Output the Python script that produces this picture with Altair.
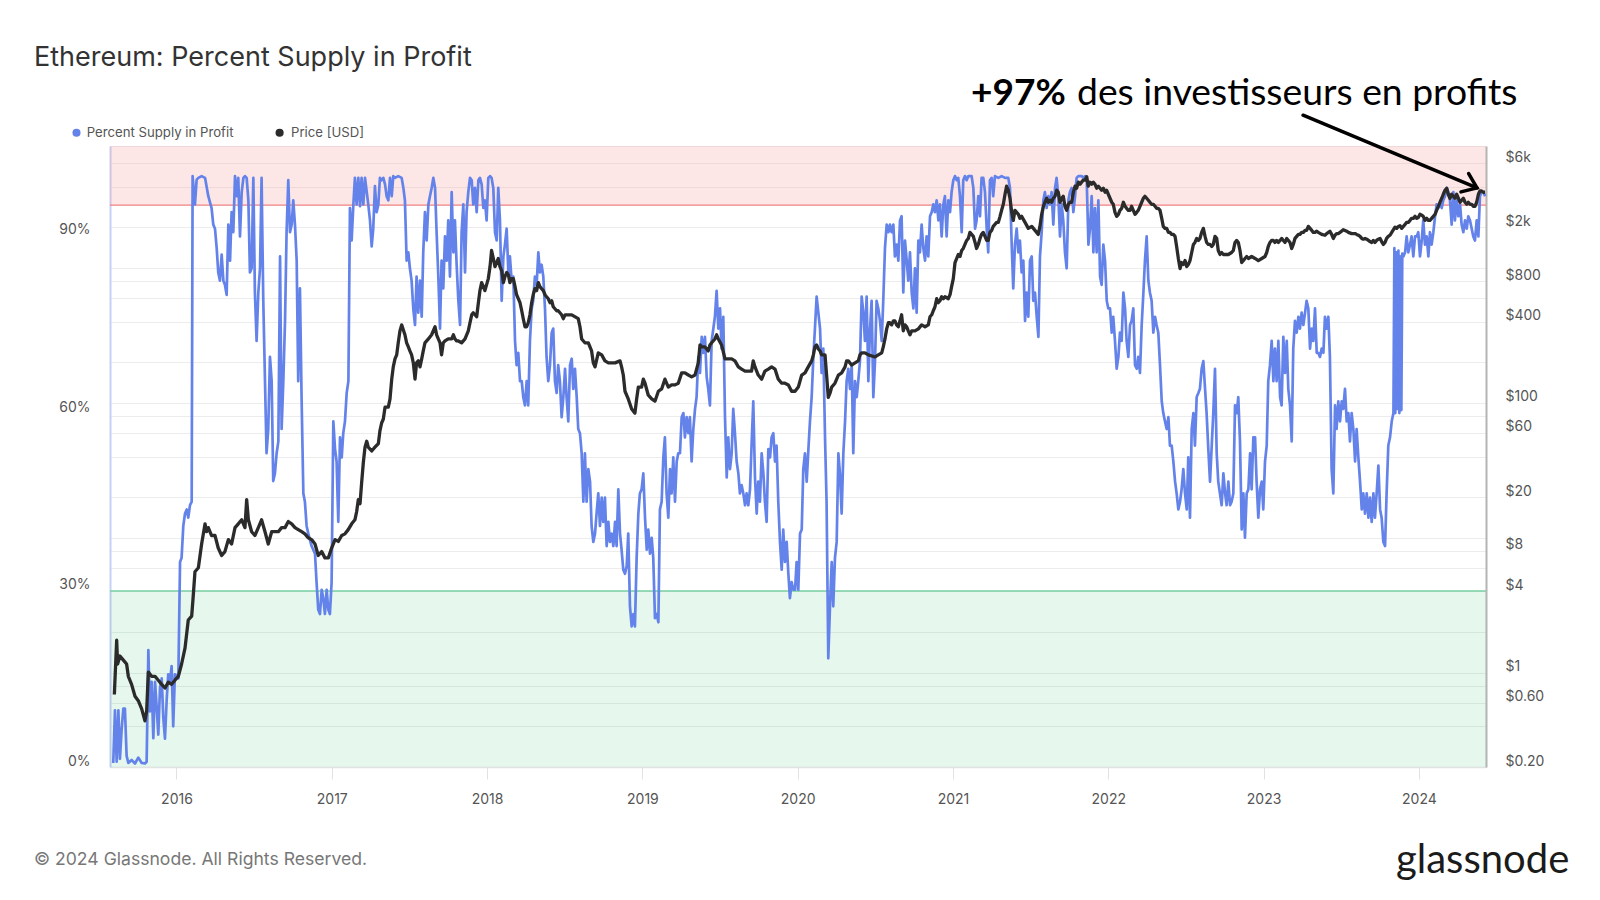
import altair as alt
import pandas as pd

# ---------------- data ----------------
# Percent Supply in Profit (%), (decimal year, value)
supply_2015_2016 = [
    (2015.593, 0.3), (2015.604, 9.2), (2015.615, 0.5), (2015.626, 9.2), (2015.636, 1.0), (2015.647, 6.0),
    (2015.658, 9.5), (2015.668, 9.5), (2015.679, 1.5), (2015.690, 0.3), (2015.711, 0.8), (2015.733, 0.2),
    (2015.754, 1.2), (2015.776, 0.3), (2015.797, 0.2), (2015.808, 0.5), (2015.819, 19.4), (2015.829, 9.0),
    (2015.840, 14.0), (2015.851, 4.5), (2015.862, 14.0), (2015.872, 10.0), (2015.883, 5.1), (2015.894, 13.0),
    (2015.905, 14.6), (2015.915, 8.0), (2015.926, 4.4), (2015.937, 11.0), (2015.947, 15.3), (2015.958, 14.0),
    (2015.969, 16.7), (2015.979, 6.5), (2015.990, 15.3), (2016.001, 15.0), (2016.012, 14.6), (2016.023, 34.3),
    (2016.033, 35.0), (2016.044, 40.4), (2016.055, 42.5), (2016.066, 43.2), (2016.076, 41.8), (2016.087, 43.9),
    (2016.098, 44.5), (2016.104, 99.6), (2016.119, 94.8), (2016.130, 99.0), (2016.141, 99.3), (2016.162, 99.6),
    (2016.184, 99.3), (2016.205, 96.2), (2016.226, 94.2), (2016.237, 91.4), (2016.248, 90.7), (2016.259, 87.4),
    (2016.269, 83.3), (2016.280, 81.9), (2016.291, 86.3), (2016.302, 81.9), (2016.312, 81.2), (2016.323, 79.5),
    (2016.334, 91.4), (2016.345, 85.3), (2016.355, 93.5), (2016.366, 90.1), (2016.377, 99.6), (2016.388, 96.2),
    (2016.398, 99.3), (2016.409, 89.4), (2016.420, 96.9), (2016.431, 99.3), (2016.441, 99.6), (2016.452, 99.3),
    (2016.463, 95.5), (2016.473, 83.3), (2016.484, 84.0), (2016.495, 99.3), (2016.505, 79.9), (2016.516, 71.7),
    (2016.527, 79.9), (2016.538, 84.0), (2016.548, 99.3), (2016.559, 78.5), (2016.570, 64.9), (2016.580, 52.7),
    (2016.591, 56.8), (2016.602, 69.0), (2016.613, 64.9), (2016.623, 48.0), (2016.634, 49.3), (2016.645, 52.7),
    (2016.656, 54.7), (2016.667, 86.0), (2016.677, 56.8), (2016.688, 64.9), (2016.699, 75.1), (2016.709, 90.1),
    (2016.720, 98.9), (2016.731, 90.1), (2016.742, 91.4), (2016.752, 95.5), (2016.763, 91.4), (2016.774, 85.3),
    (2016.784, 64.9), (2016.795, 80.6), (2016.806, 61.5), (2016.817, 45.9), (2016.827, 44.5), (2016.838, 40.4),
    (2016.849, 39.1), (2016.870, 37.0), (2016.892, 35.7), (2016.902, 30.9), (2016.913, 26.2), (2016.924, 25.5),
    (2016.935, 29.6), (2016.945, 28.2), (2016.956, 25.5), (2016.967, 29.6), (2016.978, 26.2), (2016.988, 25.5),
    (2016.999, 30.9), (2017.010, 58.1),
]
supply_2017_2018 = [
    (2017.021, 53.4), (2017.031, 51.3), (2017.042, 41.1), (2017.053, 55.4), (2017.064, 52.0), (2017.074, 56.1),
    (2017.085, 58.1), (2017.096, 62.9), (2017.107, 64.9), (2017.117, 94.2), (2017.128, 88.7), (2017.139, 94.8),
    (2017.149, 99.3), (2017.160, 94.8), (2017.171, 99.3), (2017.182, 94.5), (2017.192, 99.3), (2017.203, 94.8),
    (2017.214, 99.3), (2017.235, 94.8), (2017.246, 92.1), (2017.257, 87.7), (2017.267, 90.7), (2017.278, 97.9),
    (2017.289, 93.5), (2017.300, 94.8), (2017.310, 99.3), (2017.321, 98.9), (2017.332, 99.3), (2017.343, 98.2),
    (2017.353, 96.2), (2017.364, 95.5), (2017.375, 99.3), (2017.386, 96.2), (2017.396, 99.6), (2017.407, 99.3),
    (2017.428, 99.6), (2017.450, 99.3), (2017.461, 97.6), (2017.471, 95.5), (2017.482, 85.3), (2017.493, 86.7),
    (2017.503, 84.0), (2017.514, 81.9), (2017.525, 77.1), (2017.536, 74.4), (2017.546, 82.6), (2017.557, 76.5),
    (2017.568, 81.9), (2017.579, 75.8), (2017.589, 86.7), (2017.600, 93.5), (2017.611, 88.7), (2017.622, 94.8),
    (2017.632, 96.2), (2017.643, 97.6), (2017.654, 99.3), (2017.665, 97.6), (2017.675, 90.1), (2017.686, 82.6),
    (2017.697, 73.8), (2017.707, 85.3), (2017.718, 80.6), (2017.729, 89.4), (2017.740, 85.3), (2017.750, 92.1),
    (2017.761, 82.6), (2017.772, 96.9), (2017.783, 86.7), (2017.793, 92.1), (2017.804, 84.6), (2017.815, 78.5),
    (2017.826, 74.4), (2017.836, 90.1), (2017.847, 94.8), (2017.858, 83.3), (2017.868, 93.5), (2017.879, 96.9),
    (2017.890, 99.3), (2017.901, 98.9), (2017.911, 94.8), (2017.922, 97.6), (2017.933, 93.5), (2017.944, 98.9),
    (2017.954, 99.3), (2017.965, 98.2), (2017.976, 94.2), (2017.986, 95.5), (2017.997, 92.1), (2018.008, 99.3),
    (2018.019, 99.6), (2018.029, 99.3), (2018.040, 97.6), (2018.051, 90.1), (2018.062, 88.7), (2018.072, 97.6),
    (2018.083, 92.1), (2018.094, 78.5), (2018.105, 86.0), (2018.115, 88.0), (2018.126, 90.7), (2018.137, 83.3),
    (2018.147, 86.0), (2018.158, 81.9), (2018.169, 82.6), (2018.180, 71.7), (2018.190, 67.6), (2018.201, 69.7),
    (2018.212, 64.9), (2018.223, 64.9), (2018.233, 62.2), (2018.244, 60.8), (2018.255, 64.9), (2018.265, 60.8),
    (2018.276, 71.7), (2018.287, 77.1), (2018.297, 78.5), (2018.308, 82.6), (2018.319, 81.2), (2018.330, 86.7),
    (2018.340, 83.3), (2018.351, 84.6), (2018.362, 82.6), (2018.373, 77.1), (2018.383, 69.0), (2018.394, 64.9),
    (2018.405, 67.6), (2018.416, 73.1), (2018.426, 73.8), (2018.437, 64.9), (2018.448, 62.9), (2018.458, 67.6),
    (2018.469, 64.9), (2018.480, 58.8), (2018.491, 62.2),
]
supply_2018_2019 = [
    (2018.502, 67.0), (2018.512, 62.2), (2018.523, 58.1), (2018.534, 67.6), (2018.545, 68.7), (2018.555, 63.6),
    (2018.566, 67.0), (2018.577, 62.2), (2018.587, 56.8), (2018.598, 56.1), (2018.609, 52.7), (2018.620, 44.5),
    (2018.630, 52.7), (2018.641, 44.5), (2018.652, 50.0), (2018.663, 47.9), (2018.673, 40.4), (2018.684, 37.7),
    (2018.695, 39.1), (2018.705, 42.5), (2018.716, 45.9), (2018.727, 40.4), (2018.738, 45.2), (2018.748, 41.1),
    (2018.759, 45.2), (2018.770, 37.0), (2018.781, 41.1), (2018.791, 37.7), (2018.802, 39.1), (2018.813, 37.0),
    (2018.824, 41.1), (2018.834, 37.0), (2018.845, 46.6), (2018.856, 39.1), (2018.866, 36.4), (2018.877, 33.0),
    (2018.888, 32.3), (2018.899, 33.6), (2018.909, 39.1), (2018.920, 26.8), (2018.931, 23.4), (2018.942, 25.5),
    (2018.952, 23.4), (2018.963, 35.0), (2018.974, 42.5), (2018.984, 45.9), (2018.995, 46.6), (2019.006, 49.3),
    (2019.017, 41.8), (2019.028, 36.4), (2019.038, 39.8), (2019.049, 35.7), (2019.060, 38.4), (2019.070, 35.0),
    (2019.081, 24.8), (2019.092, 25.5), (2019.103, 24.1), (2019.113, 43.2), (2019.124, 44.5), (2019.135, 52.0),
    (2019.145, 55.4), (2019.156, 45.9), (2019.167, 41.8), (2019.178, 50.0), (2019.188, 45.9), (2019.199, 52.0),
    (2019.210, 44.5), (2019.221, 51.3), (2019.231, 52.7), (2019.242, 52.7), (2019.253, 58.8), (2019.264, 59.5),
    (2019.274, 55.4), (2019.285, 58.8), (2019.296, 56.1), (2019.306, 58.8), (2019.317, 51.3), (2019.328, 56.8),
    (2019.339, 60.2), (2019.349, 62.2), (2019.360, 69.0), (2019.371, 66.3), (2019.382, 72.4), (2019.392, 69.7),
    (2019.403, 72.4), (2019.414, 65.6), (2019.424, 63.6), (2019.435, 60.8), (2019.446, 71.7), (2019.457, 73.8),
    (2019.467, 75.8), (2019.478, 80.2), (2019.489, 73.8), (2019.500, 77.2), (2019.510, 70.4), (2019.521, 75.8),
    (2019.532, 58.8), (2019.543, 48.6), (2019.553, 55.4), (2019.564, 50.0), (2019.575, 52.7), (2019.585, 60.2),
    (2019.596, 56.1), (2019.607, 51.3), (2019.618, 49.3), (2019.628, 45.9), (2019.639, 47.3), (2019.650, 45.9),
    (2019.661, 43.9), (2019.671, 45.9), (2019.682, 43.9), (2019.693, 46.6), (2019.703, 54.0), (2019.714, 61.5),
    (2019.725, 48.6), (2019.736, 42.5), (2019.746, 47.9), (2019.757, 44.5), (2019.768, 52.7), (2019.779, 49.3),
    (2019.789, 44.5), (2019.800, 41.1), (2019.811, 53.4), (2019.822, 52.0), (2019.832, 55.4), (2019.843, 56.1),
    (2019.854, 51.3), (2019.864, 54.0), (2019.875, 44.5), (2019.886, 37.7), (2019.897, 33.0), (2019.907, 39.8),
    (2019.918, 34.3), (2019.929, 37.7), (2019.940, 32.3), (2019.950, 28.2), (2019.961, 30.9), (2019.972, 29.6),
]
supply_2020_2021 = [
    (2019.983, 29.6), (2019.993, 34.3), (2020.004, 29.6), (2020.015, 39.1), (2020.026, 39.8), (2020.036, 50.0),
    (2020.047, 52.7), (2020.058, 47.9), (2020.069, 53.4), (2020.079, 58.1), (2020.090, 62.2), (2020.101, 69.0),
    (2020.111, 73.8), (2020.122, 79.2), (2020.133, 76.5), (2020.144, 73.8), (2020.154, 66.3), (2020.165, 70.4),
    (2020.176, 55.4), (2020.186, 44.5), (2020.197, 18.0), (2020.208, 26.8), (2020.219, 34.3), (2020.229, 26.8),
    (2020.240, 35.0), (2020.251, 37.7), (2020.262, 52.7), (2020.272, 49.3), (2020.283, 42.5), (2020.294, 52.7),
    (2020.305, 58.1), (2020.315, 64.9), (2020.326, 67.0), (2020.337, 63.6), (2020.348, 67.6), (2020.358, 52.7),
    (2020.369, 64.9), (2020.380, 62.2), (2020.390, 64.9), (2020.401, 68.3), (2020.412, 79.2), (2020.423, 76.5),
    (2020.433, 71.7), (2020.444, 79.2), (2020.455, 64.9), (2020.466, 73.8), (2020.476, 78.5), (2020.487, 62.2),
    (2020.498, 68.3), (2020.508, 78.5), (2020.519, 77.2), (2020.530, 75.1), (2020.541, 71.7), (2020.551, 78.5),
    (2020.562, 87.4), (2020.573, 91.4), (2020.584, 90.1), (2020.594, 91.4), (2020.605, 90.1), (2020.616, 91.4),
    (2020.626, 86.0), (2020.637, 88.0), (2020.648, 85.3), (2020.659, 92.1), (2020.669, 92.8), (2020.680, 79.9),
    (2020.691, 88.7), (2020.702, 85.3), (2020.712, 81.9), (2020.723, 86.7), (2020.734, 79.9), (2020.745, 77.2),
    (2020.755, 84.0), (2020.766, 76.5), (2020.777, 88.7), (2020.787, 86.7), (2020.798, 91.4), (2020.809, 87.4),
    (2020.820, 85.3), (2020.830, 89.4), (2020.841, 86.0), (2020.852, 92.8), (2020.863, 93.5), (2020.873, 94.8),
    (2020.884, 93.5), (2020.895, 95.5), (2020.906, 92.1), (2020.916, 94.8), (2020.927, 89.4), (2020.938, 94.8),
    (2020.948, 96.2), (2020.959, 89.4), (2020.970, 95.5), (2020.981, 93.5), (2020.991, 96.9), (2021.002, 98.9),
    (2021.013, 99.6), (2021.024, 98.9), (2021.034, 99.3), (2021.045, 96.2), (2021.056, 90.1), (2021.066, 98.9),
    (2021.077, 99.6), (2021.088, 98.9), (2021.099, 99.6), (2021.120, 99.6), (2021.131, 97.6), (2021.142, 90.7),
    (2021.152, 92.1), (2021.163, 96.2), (2021.174, 92.8), (2021.184, 99.3), (2021.195, 99.3), (2021.206, 96.9),
    (2021.217, 90.7), (2021.227, 86.7), (2021.238, 98.9), (2021.249, 99.3), (2021.259, 96.2), (2021.270, 99.6),
    (2021.292, 99.3), (2021.313, 99.6), (2021.335, 99.3), (2021.356, 99.3), (2021.367, 97.6), (2021.378, 88.0),
    (2021.388, 80.6), (2021.399, 88.0), (2021.410, 90.7), (2021.421, 86.7), (2021.431, 88.7), (2021.442, 83.3),
    (2021.453, 85.3),
]
supply_2021_2022 = [
    (2021.464, 75.1), (2021.474, 79.9), (2021.485, 75.8), (2021.496, 85.3), (2021.507, 86.0), (2021.517, 78.5),
    (2021.528, 79.9), (2021.539, 75.8), (2021.550, 72.4), (2021.560, 86.0), (2021.571, 90.1), (2021.582, 95.5),
    (2021.592, 96.9), (2021.603, 94.2), (2021.614, 96.2), (2021.625, 94.8), (2021.635, 96.9), (2021.646, 91.4),
    (2021.657, 97.6), (2021.667, 99.3), (2021.678, 96.2), (2021.689, 89.4), (2021.700, 94.8), (2021.710, 92.1),
    (2021.721, 86.7), (2021.732, 84.0), (2021.743, 95.5), (2021.753, 96.9), (2021.764, 97.6), (2021.775, 93.5),
    (2021.786, 96.2), (2021.796, 99.3), (2021.807, 99.6), (2021.829, 99.6), (2021.839, 99.3), (2021.850, 99.6),
    (2021.861, 98.9), (2021.872, 88.0), (2021.882, 90.7), (2021.893, 96.2), (2021.904, 86.7), (2021.914, 94.2),
    (2021.925, 86.7), (2021.936, 95.5), (2021.947, 82.6), (2021.957, 81.2), (2021.968, 88.0), (2021.979, 85.3),
    (2021.990, 78.5), (2022.000, 77.2), (2022.011, 77.2), (2022.022, 73.1), (2022.032, 75.8), (2022.043, 71.7),
    (2022.054, 67.0), (2022.065, 69.0), (2022.075, 73.1), (2022.086, 71.7), (2022.097, 79.9), (2022.108, 77.2),
    (2022.118, 71.7), (2022.129, 69.0), (2022.140, 74.4), (2022.150, 75.1), (2022.161, 77.2), (2022.172, 67.6),
    (2022.183, 67.0), (2022.193, 69.0), (2022.204, 66.3), (2022.215, 74.4), (2022.226, 79.9), (2022.236, 85.3),
    (2022.247, 89.4), (2022.258, 81.9), (2022.268, 79.9), (2022.279, 78.5), (2022.290, 73.1), (2022.301, 75.8),
    (2022.311, 74.4), (2022.322, 73.1), (2022.333, 67.6), (2022.344, 61.5), (2022.354, 59.5), (2022.365, 58.1),
    (2022.376, 56.8), (2022.387, 58.8), (2022.397, 54.0), (2022.408, 54.0), (2022.419, 51.3), (2022.430, 47.9),
    (2022.440, 45.9), (2022.451, 43.2), (2022.462, 44.5), (2022.472, 46.6), (2022.483, 50.0), (2022.494, 45.9),
    (2022.505, 43.2), (2022.515, 52.0), (2022.526, 41.8), (2022.537, 56.8), (2022.548, 59.5), (2022.558, 54.0),
    (2022.569, 62.2), (2022.580, 62.9), (2022.590, 63.6), (2022.601, 67.0), (2022.612, 68.3), (2022.623, 63.6),
    (2022.633, 59.5), (2022.644, 53.4), (2022.655, 47.9), (2022.666, 54.0), (2022.676, 59.5), (2022.687, 67.0),
    (2022.698, 52.7), (2022.708, 47.9), (2022.719, 45.9), (2022.730, 43.9), (2022.741, 49.3), (2022.752, 45.9),
    (2022.762, 43.9), (2022.773, 47.9), (2022.784, 43.9), (2022.794, 44.5), (2022.805, 45.9), (2022.816, 60.8),
    (2022.827, 59.5), (2022.837, 62.2), (2022.848, 54.7), (2022.859, 39.8), (2022.870, 45.9), (2022.880, 38.4),
    (2022.891, 45.9), (2022.902, 46.6), (2022.913, 52.7), (2022.923, 46.6), (2022.934, 55.4),
]
supply_2023_2024 = [
    (2022.945, 55.4), (2022.955, 47.9), (2022.966, 41.8), (2022.977, 46.6), (2022.988, 47.9), (2022.998, 43.2),
    (2023.009, 51.3), (2023.020, 54.0), (2023.030, 64.9), (2023.041, 67.6), (2023.052, 71.7), (2023.063, 64.9),
    (2023.073, 70.4), (2023.084, 64.9), (2023.095, 71.7), (2023.106, 62.2), (2023.116, 60.8), (2023.127, 72.4),
    (2023.138, 66.3), (2023.149, 71.7), (2023.159, 63.6), (2023.170, 60.8), (2023.181, 54.7), (2023.191, 70.4),
    (2023.202, 75.1), (2023.213, 73.1), (2023.224, 75.8), (2023.234, 73.8), (2023.245, 76.5), (2023.256, 74.4),
    (2023.267, 76.5), (2023.277, 78.5), (2023.288, 77.2), (2023.299, 70.4), (2023.310, 73.8), (2023.320, 71.7),
    (2023.331, 77.2), (2023.342, 69.7), (2023.352, 69.7), (2023.363, 69.0), (2023.374, 70.4), (2023.385, 69.7),
    (2023.395, 75.8), (2023.406, 73.8), (2023.417, 75.8), (2023.427, 69.0), (2023.438, 50.0), (2023.449, 45.9),
    (2023.460, 60.8), (2023.470, 56.8), (2023.481, 61.5), (2023.492, 58.1), (2023.503, 61.5), (2023.513, 60.2),
    (2023.524, 63.6), (2023.535, 58.1), (2023.546, 59.5), (2023.556, 54.7), (2023.567, 59.5), (2023.578, 56.8),
    (2023.589, 51.3), (2023.599, 56.8), (2023.610, 52.0), (2023.621, 47.9), (2023.632, 43.2), (2023.642, 45.9),
    (2023.653, 42.5), (2023.664, 45.9), (2023.675, 41.8), (2023.685, 45.2), (2023.696, 41.1), (2023.707, 45.9),
    (2023.717, 41.8), (2023.728, 45.9), (2023.739, 50.6), (2023.750, 43.2), (2023.760, 41.8), (2023.771, 37.7),
    (2023.782, 37.0), (2023.792, 45.9), (2023.803, 54.0), (2023.814, 55.4), (2023.825, 58.1), (2023.836, 59.5),
    (2023.842, 87.4), (2023.848, 59.5), (2023.855, 86.7), (2023.861, 60.2), (2023.868, 87.0), (2023.874, 59.5),
    (2023.880, 86.0), (2023.887, 60.0), (2023.893, 86.5), (2023.900, 86.0), (2023.911, 86.7), (2023.921, 89.4),
    (2023.932, 86.7), (2023.943, 88.0), (2023.953, 89.4), (2023.964, 86.0), (2023.975, 89.4), (2023.986, 89.4),
    (2023.996, 90.1), (2024.007, 86.0), (2024.018, 88.7), (2024.028, 92.1), (2024.039, 88.0), (2024.050, 89.4),
    (2024.061, 86.0), (2024.071, 90.1), (2024.082, 88.0), (2024.093, 90.1), (2024.104, 92.8), (2024.114, 94.8),
    (2024.125, 94.2), (2024.136, 94.8), (2024.147, 94.2), (2024.157, 95.5), (2024.168, 96.2), (2024.179, 97.6),
    (2024.189, 96.9), (2024.200, 95.5), (2024.211, 91.4), (2024.222, 96.9), (2024.232, 92.1), (2024.243, 95.5),
    (2024.254, 92.8), (2024.265, 94.8), (2024.275, 91.4), (2024.286, 90.1), (2024.297, 92.1), (2024.308, 90.7),
    (2024.318, 92.8), (2024.329, 92.1), (2024.340, 90.7), (2024.350, 89.4), (2024.361, 88.7), (2024.372, 92.1),
    (2024.383, 89.4), (2024.393, 96.2), (2024.404, 96.9), (2024.415, 96.9), (2024.426, 96.2),
]

# ETH price (USD), (decimal year, value)
price_2015_2016 = [
    (2015.600, 0.69), (2015.615, 1.74), (2015.621, 1.16), (2015.636, 1.33), (2015.658, 1.24), (2015.679, 1.16),
    (2015.690, 0.94), (2015.711, 0.82), (2015.733, 0.67), (2015.754, 0.62), (2015.776, 0.54), (2015.797, 0.44),
    (2015.808, 0.52), (2015.819, 1.01), (2015.840, 0.94), (2015.862, 0.94), (2015.883, 0.88), (2015.905, 0.82),
    (2015.926, 0.77), (2015.947, 0.85), (2015.969, 0.82), (2015.990, 0.88), (2016.012, 0.94), (2016.033, 1.16),
    (2016.055, 1.52), (2016.076, 2.46), (2016.098, 2.63), (2016.108, 3.71), (2016.119, 5.6), (2016.141, 6.0),
    (2016.162, 9.0), (2016.184, 12.7), (2016.194, 11.1), (2016.205, 11.9), (2016.226, 10.4), (2016.248, 10.4),
    (2016.269, 8.4), (2016.291, 7.4), (2016.312, 7.9), (2016.334, 9.7), (2016.355, 9.0), (2016.377, 11.9),
    (2016.398, 12.7), (2016.420, 13.6), (2016.441, 11.9), (2016.452, 19.2), (2016.463, 13.6), (2016.484, 11.1),
    (2016.505, 10.4), (2016.527, 11.9), (2016.548, 13.6), (2016.570, 11.1), (2016.591, 9.0), (2016.613, 11.1),
    (2016.634, 11.1), (2016.656, 11.1), (2016.677, 11.9), (2016.699, 11.9), (2016.720, 13.2), (2016.742, 12.7),
    (2016.763, 11.9), (2016.784, 11.5), (2016.806, 11.1), (2016.827, 10.7), (2016.849, 10.0), (2016.870, 9.7),
    (2016.892, 9.0), (2016.913, 7.4), (2016.935, 7.9), (2016.956, 7.1), (2016.978, 7.1), (2016.999, 8.4),
]
price_2017_2018 = [
    (2017.021, 9.7), (2017.042, 9.4), (2017.064, 10.4), (2017.085, 10.7), (2017.106, 11.5), (2017.128, 12.7),
    (2017.149, 13.6), (2017.160, 15.6), (2017.171, 19.2), (2017.182, 17.9), (2017.192, 25.3), (2017.203, 36.0),
    (2017.214, 47.0), (2017.225, 52.0), (2017.235, 47.0), (2017.257, 44.0), (2017.278, 47.0), (2017.300, 50.0),
    (2017.310, 62.0), (2017.321, 71.0), (2017.332, 76.0), (2017.343, 93.0), (2017.364, 93.0), (2017.375, 107.0),
    (2017.386, 150.0), (2017.396, 185.0), (2017.407, 212.0), (2017.418, 227.0), (2017.428, 279.0), (2017.439, 342.0),
    (2017.450, 379.0), (2017.471, 320.0), (2017.482, 279.0), (2017.493, 260.0), (2017.503, 243.0), (2017.514, 227.0),
    (2017.525, 198.0), (2017.536, 150.0), (2017.546, 198.0), (2017.557, 205.0), (2017.568, 185.0), (2017.579, 212.0),
    (2017.589, 243.0), (2017.600, 279.0), (2017.622, 298.0), (2017.643, 320.0), (2017.665, 367.0), (2017.675, 320.0),
    (2017.686, 298.0), (2017.697, 279.0), (2017.707, 227.0), (2017.718, 279.0), (2017.729, 288.0), (2017.750, 298.0),
    (2017.772, 298.0), (2017.783, 320.0), (2017.793, 298.0), (2017.804, 288.0), (2017.815, 288.0), (2017.836, 279.0),
    (2017.858, 298.0), (2017.879, 342.0), (2017.890, 393.0), (2017.901, 450.0), (2017.911, 466.0), (2017.922, 450.0),
    (2017.933, 435.0), (2017.944, 553.0), (2017.954, 680.0), (2017.965, 779.0), (2017.976, 728.0), (2017.986, 680.0),
    (2017.997, 753.0), (2018.008, 835.0), (2018.019, 1025.0), (2018.029, 1349.0), (2018.040, 1177.0), (2018.051, 1025.0),
    (2018.062, 1098.0), (2018.072, 1177.0), (2018.083, 1025.0), (2018.094, 957.0), (2018.105, 779.0), (2018.115, 864.0),
    (2018.126, 925.0), (2018.137, 894.0), (2018.147, 779.0), (2018.158, 835.0), (2018.169, 835.0), (2018.180, 728.0),
    (2018.190, 634.0), (2018.201, 592.0), (2018.212, 553.0), (2018.223, 482.0), (2018.233, 421.0), (2018.244, 367.0),
    (2018.255, 367.0), (2018.265, 393.0), (2018.276, 450.0), (2018.287, 553.0), (2018.297, 634.0), (2018.308, 703.0),
    (2018.319, 680.0), (2018.330, 779.0), (2018.340, 728.0), (2018.351, 703.0), (2018.362, 680.0), (2018.373, 634.0),
    (2018.383, 613.0), (2018.394, 592.0), (2018.405, 553.0), (2018.416, 572.0), (2018.426, 516.0), (2018.437, 499.0),
    (2018.448, 482.0), (2018.458, 482.0), (2018.469, 466.0), (2018.480, 450.0), (2018.491, 421.0),
]
price_2018_2019 = [
    (2018.502, 450.0), (2018.545, 450.0), (2018.587, 421.0), (2018.598, 367.0), (2018.609, 298.0), (2018.630, 279.0),
    (2018.652, 279.0), (2018.673, 243.0), (2018.684, 198.0), (2018.695, 185.0), (2018.716, 235.0), (2018.738, 227.0),
    (2018.759, 205.0), (2018.781, 198.0), (2018.824, 198.0), (2018.856, 205.0), (2018.866, 185.0), (2018.877, 161.0),
    (2018.888, 122.0), (2018.909, 107.0), (2018.931, 90.0), (2018.952, 84.0), (2018.963, 107.0), (2018.974, 131.0),
    (2018.995, 131.0), (2019.006, 150.0), (2019.017, 140.0), (2019.038, 114.0), (2019.060, 107.0), (2019.081, 103.0),
    (2019.103, 122.0), (2019.124, 127.0), (2019.145, 150.0), (2019.167, 131.0), (2019.188, 136.0), (2019.210, 136.0),
    (2019.231, 140.0), (2019.253, 167.0), (2019.274, 167.0), (2019.296, 161.0), (2019.317, 156.0), (2019.339, 161.0),
    (2019.360, 198.0), (2019.371, 269.0), (2019.382, 260.0), (2019.403, 260.0), (2019.424, 243.0), (2019.435, 269.0),
    (2019.446, 279.0), (2019.467, 298.0), (2019.478, 320.0), (2019.489, 298.0), (2019.510, 269.0), (2019.532, 212.0),
    (2019.553, 212.0), (2019.575, 212.0), (2019.596, 205.0), (2019.618, 185.0), (2019.639, 178.0), (2019.661, 172.0),
    (2019.682, 172.0), (2019.703, 172.0), (2019.714, 205.0), (2019.725, 185.0), (2019.746, 161.0), (2019.768, 150.0),
    (2019.789, 172.0), (2019.811, 178.0), (2019.832, 185.0), (2019.854, 178.0), (2019.875, 150.0), (2019.897, 140.0),
    (2019.918, 140.0), (2019.940, 136.0), (2019.961, 122.0),
]
price_2020_2021 = [
    (2019.983, 122.0), (2020.004, 131.0), (2020.026, 161.0), (2020.047, 167.0), (2020.068, 185.0), (2020.090, 205.0),
    (2020.101, 227.0), (2020.111, 260.0), (2020.122, 269.0), (2020.133, 251.0), (2020.144, 243.0), (2020.154, 227.0),
    (2020.176, 227.0), (2020.187, 156.0), (2020.197, 110.0), (2020.208, 118.0), (2020.219, 131.0), (2020.240, 140.0),
    (2020.262, 161.0), (2020.283, 167.0), (2020.305, 185.0), (2020.315, 205.0), (2020.326, 205.0), (2020.347, 191.0),
    (2020.369, 198.0), (2020.390, 205.0), (2020.401, 227.0), (2020.412, 235.0), (2020.433, 235.0), (2020.455, 227.0),
    (2020.498, 219.0), (2020.519, 227.0), (2020.541, 235.0), (2020.551, 260.0), (2020.562, 298.0), (2020.573, 354.0),
    (2020.584, 393.0), (2020.594, 393.0), (2020.605, 379.0), (2020.616, 406.0), (2020.626, 406.0), (2020.637, 379.0),
    (2020.648, 367.0), (2020.659, 406.0), (2020.669, 450.0), (2020.680, 342.0), (2020.691, 379.0), (2020.702, 367.0),
    (2020.712, 342.0), (2020.723, 320.0), (2020.734, 342.0), (2020.755, 342.0), (2020.777, 354.0), (2020.798, 379.0),
    (2020.820, 367.0), (2020.841, 379.0), (2020.852, 435.0), (2020.863, 450.0), (2020.873, 482.0), (2020.884, 516.0),
    (2020.895, 592.0), (2020.905, 553.0), (2020.916, 572.0), (2020.927, 613.0), (2020.938, 592.0), (2020.948, 613.0),
    (2020.970, 592.0), (2020.981, 634.0), (2020.991, 728.0), (2021.002, 835.0), (2021.013, 1098.0), (2021.024, 1177.0),
    (2021.034, 1260.0), (2021.045, 1217.0), (2021.056, 1349.0), (2021.066, 1396.0), (2021.077, 1495.0), (2021.088, 1601.0),
    (2021.099, 1657.0), (2021.109, 1837.0), (2021.120, 1775.0), (2021.131, 1715.0), (2021.142, 1547.0), (2021.152, 1396.0),
    (2021.163, 1495.0), (2021.174, 1657.0), (2021.184, 1775.0), (2021.195, 1837.0), (2021.206, 1715.0), (2021.217, 1601.0),
    (2021.227, 1601.0), (2021.238, 1837.0), (2021.249, 1900.0), (2021.259, 2035.0), (2021.270, 2106.0), (2021.281, 2180.0),
    (2021.292, 2180.0), (2021.303, 2416.0), (2021.313, 2678.0), (2021.324, 2968.0), (2021.335, 3523.0), (2021.345, 4041.0),
    (2021.356, 3773.0), (2021.367, 3291.0), (2021.378, 2588.0), (2021.388, 2256.0), (2021.399, 2678.0), (2021.410, 2588.0),
    (2021.421, 2501.0), (2021.431, 2335.0), (2021.442, 2416.0),
]
price_2021_2022 = [
    (2021.464, 2180.0), (2021.485, 1967.0), (2021.507, 2035.0), (2021.528, 1900.0), (2021.549, 1775.0), (2021.560, 2035.0),
    (2021.571, 2501.0), (2021.582, 2867.0), (2021.592, 3072.0), (2021.603, 3291.0), (2021.614, 3072.0), (2021.625, 3179.0),
    (2021.635, 3072.0), (2021.646, 3291.0), (2021.657, 3404.0), (2021.668, 3773.0), (2021.678, 3646.0), (2021.689, 3072.0),
    (2021.700, 3291.0), (2021.710, 3404.0), (2021.721, 2867.0), (2021.732, 2678.0), (2021.743, 2968.0), (2021.753, 3072.0),
    (2021.764, 3072.0), (2021.775, 3646.0), (2021.786, 4041.0), (2021.796, 3904.0), (2021.807, 4328.0), (2021.818, 4182.0),
    (2021.828, 4328.0), (2021.839, 4480.0), (2021.850, 4480.0), (2021.861, 4750.0), (2021.871, 4041.0), (2021.882, 4328.0),
    (2021.893, 4182.0), (2021.904, 4328.0), (2021.914, 4182.0), (2021.925, 3904.0), (2021.936, 4041.0), (2021.947, 3904.0),
    (2021.957, 3773.0), (2021.968, 3904.0), (2021.979, 3646.0), (2021.989, 3773.0), (2022.000, 3523.0), (2022.011, 3291.0),
    (2022.022, 3072.0), (2022.032, 2968.0), (2022.043, 2588.0), (2022.054, 2416.0), (2022.065, 2501.0), (2022.075, 2678.0),
    (2022.086, 2770.0), (2022.097, 3072.0), (2022.108, 2867.0), (2022.118, 2770.0), (2022.129, 2678.0), (2022.140, 2678.0),
    (2022.150, 2867.0), (2022.161, 2678.0), (2022.172, 2501.0), (2022.183, 2588.0), (2022.193, 2678.0), (2022.204, 2867.0),
    (2022.215, 3072.0), (2022.226, 3291.0), (2022.236, 3404.0), (2022.247, 3291.0), (2022.258, 3179.0), (2022.268, 3072.0),
    (2022.279, 2968.0), (2022.290, 2968.0), (2022.301, 2867.0), (2022.311, 2770.0), (2022.322, 2770.0), (2022.333, 2678.0),
    (2022.344, 2335.0), (2022.354, 2035.0), (2022.365, 1967.0), (2022.376, 1967.0), (2022.387, 1837.0), (2022.397, 1837.0),
    (2022.408, 1775.0), (2022.419, 1775.0), (2022.430, 1715.0), (2022.440, 1444.0), (2022.451, 1177.0), (2022.462, 991.0),
    (2022.472, 1098.0), (2022.483, 1061.0), (2022.494, 1136.0), (2022.505, 1025.0), (2022.515, 1061.0), (2022.526, 1136.0),
    (2022.537, 1303.0), (2022.548, 1495.0), (2022.558, 1547.0), (2022.569, 1657.0), (2022.580, 1601.0), (2022.590, 1657.0),
    (2022.601, 1837.0), (2022.612, 1967.0), (2022.623, 1715.0), (2022.633, 1547.0), (2022.644, 1495.0), (2022.655, 1495.0),
    (2022.666, 1444.0), (2022.676, 1495.0), (2022.687, 1715.0), (2022.698, 1657.0), (2022.708, 1349.0), (2022.719, 1260.0),
    (2022.730, 1303.0), (2022.741, 1260.0), (2022.752, 1260.0), (2022.773, 1260.0), (2022.794, 1303.0), (2022.805, 1349.0),
    (2022.816, 1547.0), (2022.827, 1601.0), (2022.837, 1547.0), (2022.848, 1349.0), (2022.859, 1098.0), (2022.870, 1136.0),
    (2022.880, 1177.0), (2022.891, 1217.0), (2022.902, 1177.0), (2022.923, 1217.0),
]
price_2023_2024 = [
    (2022.945, 1177.0), (2022.966, 1136.0), (2022.988, 1177.0), (2023.009, 1217.0), (2023.020, 1303.0), (2023.030, 1444.0),
    (2023.041, 1547.0), (2023.052, 1601.0), (2023.063, 1601.0), (2023.073, 1547.0), (2023.084, 1601.0), (2023.095, 1547.0),
    (2023.106, 1601.0), (2023.116, 1657.0), (2023.127, 1601.0), (2023.138, 1547.0), (2023.149, 1657.0), (2023.159, 1601.0),
    (2023.170, 1547.0), (2023.181, 1396.0), (2023.191, 1495.0), (2023.202, 1657.0), (2023.213, 1715.0), (2023.224, 1775.0),
    (2023.234, 1775.0), (2023.245, 1837.0), (2023.256, 1837.0), (2023.267, 1900.0), (2023.277, 1900.0), (2023.288, 2035.0),
    (2023.299, 1967.0), (2023.310, 1900.0), (2023.320, 1837.0), (2023.331, 1837.0), (2023.342, 1875.0), (2023.352, 1837.0),
    (2023.374, 1775.0), (2023.395, 1750.0), (2023.406, 1800.0), (2023.417, 1837.0), (2023.427, 1875.0), (2023.438, 1775.0),
    (2023.449, 1657.0), (2023.460, 1750.0), (2023.470, 1800.0), (2023.481, 1800.0), (2023.492, 1837.0), (2023.503, 1875.0),
    (2023.513, 1925.0), (2023.524, 1900.0), (2023.535, 1875.0), (2023.546, 1837.0), (2023.567, 1800.0), (2023.589, 1800.0),
    (2023.599, 1775.0), (2023.610, 1750.0), (2023.621, 1715.0), (2023.632, 1657.0), (2023.642, 1635.0), (2023.653, 1657.0),
    (2023.664, 1635.0), (2023.675, 1601.0), (2023.685, 1570.0), (2023.696, 1547.0), (2023.707, 1601.0), (2023.717, 1547.0),
    (2023.728, 1601.0), (2023.739, 1635.0), (2023.750, 1657.0), (2023.760, 1570.0), (2023.771, 1495.0), (2023.782, 1547.0),
    (2023.792, 1657.0), (2023.803, 1715.0), (2023.814, 1750.0), (2023.825, 1837.0), (2023.836, 1925.0), (2023.846, 2010.0),
    (2023.857, 1967.0), (2023.868, 2035.0), (2023.878, 2060.0), (2023.889, 1967.0), (2023.900, 2035.0), (2023.911, 2106.0),
    (2023.921, 2180.0), (2023.932, 2180.0), (2023.943, 2256.0), (2023.953, 2335.0), (2023.964, 2335.0), (2023.975, 2416.0),
    (2023.986, 2335.0), (2023.996, 2367.0), (2024.007, 2501.0), (2024.018, 2466.0), (2024.028, 2416.0), (2024.039, 2256.0),
    (2024.050, 2335.0), (2024.061, 2256.0), (2024.071, 2256.0), (2024.082, 2335.0), (2024.093, 2416.0), (2024.104, 2501.0),
    (2024.114, 2678.0), (2024.125, 2867.0), (2024.136, 3072.0), (2024.147, 3291.0), (2024.157, 3523.0), (2024.168, 3773.0),
    (2024.179, 3904.0), (2024.189, 3523.0), (2024.200, 3291.0), (2024.211, 3523.0), (2024.222, 3404.0), (2024.232, 3291.0),
    (2024.243, 3523.0), (2024.254, 3291.0), (2024.265, 3072.0), (2024.275, 3179.0), (2024.286, 3291.0), (2024.297, 3072.0),
    (2024.308, 2968.0), (2024.318, 3072.0), (2024.329, 2968.0), (2024.340, 2968.0), (2024.350, 2867.0), (2024.361, 2867.0),
    (2024.372, 3072.0), (2024.383, 3523.0), (2024.393, 3725.0), (2024.404, 3725.0), (2024.415, 3646.0), (2024.426, 3646.0),
]

profit_band_high = 94.7   # red threshold line (%)
profit_band_low = 29.4    # green threshold line (%)

year_ticks = [2016, 2017, 2018, 2019, 2020, 2021, 2022, 2023, 2024]
pct_ticks = [0, 30, 60, 90]
price_grid = [0.2, 0.4, 0.6, 0.8, 1, 2, 4, 6, 8, 10, 20, 40, 60, 80, 100, 200, 400, 600, 800, 1000, 2000, 4000, 6000]
price_tick_text = [(6000, "$6k"), (2000, "$2k"), (800, "$800"), (400, "$400"), (100, "$100"), (60, "$60"),
                   (20, "$20"), (8, "$8"), (4, "$4"), (1, "$1"), (0.6, "$0.60"), (0.2, "$0.20")]

arrow_from = (2023.254, 109.9)   # (year, %) annotation arrow tail
arrow_to = (2024.374, 97.6)      # arrow tip

# ---------------- layout ----------------
W, H = 1376, 621
BLUE = "#6483ea"
BLACK = "#2b2b2b"
X_DOM = [2015.572, 2024.432]
PCT_DOM = [-0.39, 104.69]
PRICE_DOM = [0.2, 8026]

supply = supply_2015_2016 + supply_2017_2018 + supply_2018_2019 + supply_2020_2021 + supply_2021_2022 + supply_2023_2024
price = price_2015_2016 + price_2017_2018 + price_2018_2019 + price_2020_2021 + price_2021_2022 + price_2023_2024
supply_df = pd.DataFrame(supply, columns=["year", "pct"])
price_df = pd.DataFrame(price, columns=["year", "price"])
band_df = pd.DataFrame({"lo": [profit_band_low], "hi": [profit_band_high]})

x_scale = alt.Scale(domain=X_DOM, nice=False, zero=False)
pct_scale = alt.Scale(domain=PCT_DOM, nice=False, zero=False)
price_scale = alt.Scale(type="log", domain=PRICE_DOM, nice=False)

x_axis = alt.Axis(values=year_ticks, format="d", title=None, grid=False, tickSize=12, tickColor="#e2e2e2",
                  domainColor="#e2e2e2", domainWidth=1.5, labelFont="Inter", labelFontSize=14,
                  labelColor="#555555", labelPadding=13, labelFlush=False)
x_enc = alt.X("year:Q", scale=x_scale, axis=x_axis)

pct_axis = alt.Axis(orient="left", values=pct_ticks, labelExpr="datum.value + '%'", title=None, grid=False,
                    ticks=False, tickSize=0, domainColor="#c6cff6", domainWidth=2, labelFont="Inter",
                    labelFontSize=14, labelColor="#555555", labelPadding=20, labelOffset=-3)

label_expr = "".join(f"datum.value == {v} ? '{t}' : " for v, t in price_tick_text) + "''"
price_axis = alt.Axis(orient="right", values=price_grid, labelExpr=label_expr, title=None, grid=True,
                      gridColor="#ececec", gridWidth=1, ticks=False, tickSize=0, domainColor="#b4b4b4",
                      domainWidth=2, labelFont="Inter", labelFontSize=14, labelColor="#555555",
                      labelPadding=19, labelOffset=-6, labelOverlap=False)

pink = alt.Chart(band_df).mark_rect(color="#f5a3a3", opacity=0.27).encode(
    x=alt.value(0), x2=alt.value(W), y=alt.Y("hi:Q", scale=pct_scale, axis=pct_axis), y2=alt.value(0))
green = alt.Chart(band_df).mark_rect(color="#4fc48a", opacity=0.14).encode(
    x=alt.value(0), x2=alt.value(W), y=alt.Y("lo:Q", scale=pct_scale, axis=pct_axis), y2=alt.value(H))
red_rule = alt.Chart(band_df).mark_rule(color="#ee8080", strokeWidth=1.2).encode(
    y=alt.Y("hi:Q", scale=pct_scale, axis=pct_axis))
green_rule = alt.Chart(band_df).mark_rule(color="#79d0a3", strokeWidth=1.4).encode(
    y=alt.Y("lo:Q", scale=pct_scale, axis=pct_axis))
blue_line = alt.Chart(supply_df).mark_line(color=BLUE, strokeWidth=2.7, strokeJoin="round").encode(
    x=x_enc, y=alt.Y("pct:Q", scale=pct_scale, axis=pct_axis))
pct_group = alt.layer(green, pink, green_rule, red_rule, blue_line)

black_line = alt.Chart(price_df).mark_line(color=BLACK, strokeWidth=3.3, strokeJoin="round").encode(
    x=x_enc, y=alt.Y("price:Q", scale=price_scale, axis=price_axis))

arrow_df = pd.DataFrame({"year": [arrow_from[0]], "year2": [arrow_to[0]], "pct": [arrow_from[1]], "pct2": [arrow_to[1]]})
tip_df = pd.DataFrame({"year": [arrow_to[0]], "pct": [arrow_to[1]]})
arrow_line = alt.Chart(arrow_df).mark_rule(color="black", strokeWidth=3.5, strokeCap="round").encode(
    x=x_enc, x2="year2:Q", y=alt.Y("pct:Q", scale=pct_scale, axis=None), y2="pct2:Q")
arrow_head = alt.Chart(tip_df).mark_point(shape="M -1 -0.75 L 0 0 L -1 0.75", filled=False, size=700,
                                          strokeWidth=3.5, color="black", opacity=1, angle=22.8,
                                          strokeCap="round").encode(
    x=x_enc, y=alt.Y("pct:Q", scale=pct_scale, axis=None))
arrow_group = alt.layer(arrow_line, arrow_head)

dummy = pd.DataFrame({"k": [0]})


def txt(text, x, y, **kw):
    return alt.Chart(dummy).mark_text(text=text, **kw).encode(x=alt.value(x), y=alt.value(y))


def dot(x, y, color):
    return alt.Chart(dummy).mark_circle(size=66, color=color, opacity=1).encode(x=alt.value(x), y=alt.value(y))


texts = alt.layer(
    txt("Ethereum: Percent Supply in Profit", -76, -80, align="left", baseline="alphabetic",
        font="Inter", fontSize=27, color="#333333"),
    dot(-33.5, -13.3, BLUE),
    txt("Percent Supply in Profit", -23.3, -13.3, align="left", baseline="middle", font="Inter",
        fontSize=13.2, color="#555555"),
    dot(169.6, -13.3, BLACK),
    txt("Price [USD]", 181, -13.3, align="left", baseline="middle", font="Inter", fontSize=13.2, color="#555555"),
    txt("+97%", 861, -41, align="left", baseline="alphabetic", font="Lato", fontSize=37, fontWeight="bold",
        color="black"),
    txt("des investisseurs en profits", 967, -41, align="left", baseline="alphabetic", font="Lato",
        fontSize=37.3, color="black"),
    txt("\u00a9 2024 Glassnode. All Rights Reserved.", -76, 714, align="left", baseline="middle", font="Inter",
        fontSize=17.6, color="#777777"),
    txt("glassnode", 1286, 727, align="left", baseline="alphabetic", font="Lato", fontSize=40, color="#1b1b1b"),
)

chart = alt.layer(pct_group, black_line, arrow_group, texts).resolve_scale(y="independent").properties(
    width=W, height=H,
    autosize=alt.AutoSizeParams(type="none"),
    padding={"left": 102, "top": 138, "right": 106, "bottom": 125},
    background="white",
).configure_view(stroke="#ececec", strokeWidth=1)

chart.save("out.html", embed_options={"renderer": "svg", "actions": False})
